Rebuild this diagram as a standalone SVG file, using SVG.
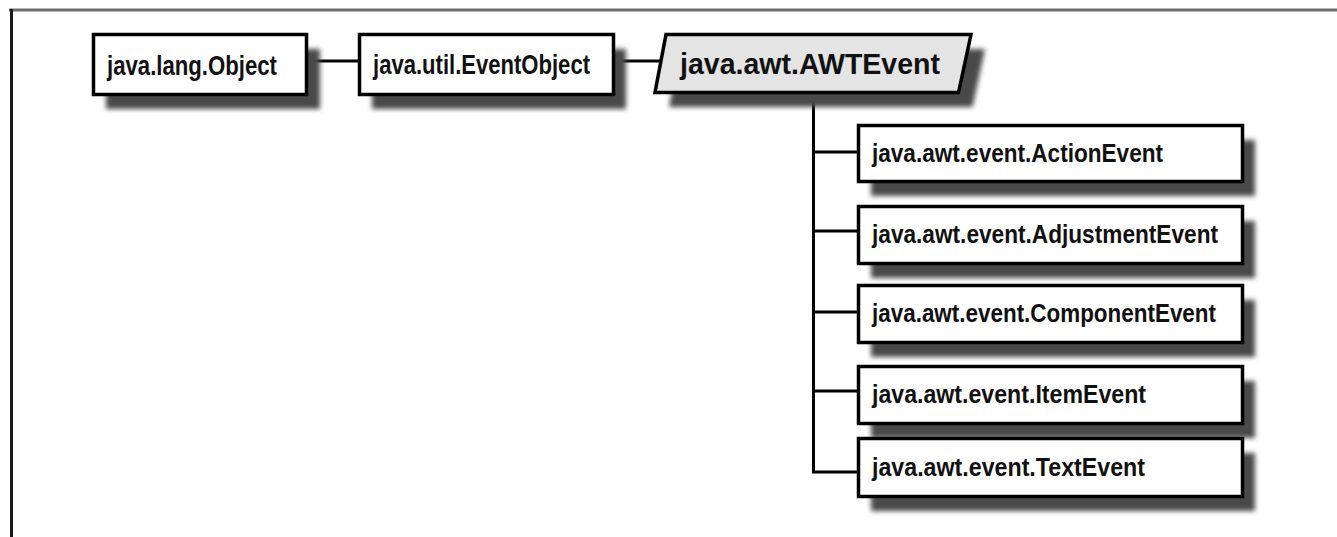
<svg xmlns="http://www.w3.org/2000/svg" width="1337" height="537" viewBox="0 0 1337 537">
<style>
.box{fill:#ffffff;stroke:#000;stroke-width:3.5}
.abs{fill:#e4e4e4;stroke:#000;stroke-width:3.5;stroke-linejoin:miter}
.shadow{fill:#4a4a4a;filter:url(#blur)}
.conn{stroke:#000;stroke-width:3;fill:none}
.t{font-family:"Liberation Sans",Arial,sans-serif;font-weight:bold;fill:#111}
.top{font-size:28px}
.child{font-size:26px}
.big{font-size:30px}
</style>
<defs>
<filter id="blur" x="-10%" y="-30%" width="130%" height="180%">
<feGaussianBlur stdDeviation="2.5"/>
</filter>
</defs>
<rect width="1337" height="537" fill="#fff"/>
<g id="frame">
<line x1="9" y1="10" x2="1337" y2="10" stroke="#6e6e6e" stroke-width="3"/>
<line x1="11.5" y1="9" x2="11.5" y2="537" stroke="#1a1a1a" stroke-width="3"/>
</g>
<g id="connectors">
<line class="conn" x1="308" y1="61" x2="358" y2="61"/>
<line class="conn" x1="615" y1="61" x2="660" y2="61"/>
<polyline class="conn" points="813.5,93 813.5,472 857,472"/>
<line class="conn" x1="813.5" y1="152" x2="857" y2="152"/>
<line class="conn" x1="813.5" y1="231" x2="857" y2="231"/>
<line class="conn" x1="813.5" y1="312" x2="857" y2="312"/>
<line class="conn" x1="813.5" y1="391" x2="857" y2="391"/>
</g>
<g id="node-object">
<rect class="shadow" x="106" y="49" width="214" height="60"/>
<rect class="box" x="93.5" y="34.5" width="213" height="60"/>
<text class="t top" x="107" y="75" textLength="170" lengthAdjust="spacingAndGlyphs">java.lang.Object</text>
</g>
<g id="node-eventobject">
<rect class="shadow" x="372" y="49" width="254" height="60"/>
<rect class="box" x="359.5" y="34.5" width="254" height="60"/>
<text class="t top" x="373" y="74" textLength="217" lengthAdjust="spacingAndGlyphs">java.util.EventObject</text>
</g>
<g id="node-awtevent">
<polygon class="shadow" points="680,49 985,49 972.5,107 669,107"/>
<polygon class="abs" points="666,34.5 971,34.5 958.5,92.5 655,92.5"/>
<text class="t big" x="680" y="74" textLength="260" lengthAdjust="spacingAndGlyphs">java.awt.AWTEvent</text>
</g>
<g id="node-actionevent">
<rect class="shadow" x="871" y="140" width="384" height="56"/>
<rect class="box" x="858.5" y="125.5" width="384" height="56"/>
<text class="t child" x="872" y="162" textLength="291" lengthAdjust="spacingAndGlyphs">java.awt.event.ActionEvent</text>
</g>
<g id="node-adjustmentevent">
<rect class="shadow" x="871" y="221" width="384" height="57"/>
<rect class="box" x="858.5" y="206.5" width="384" height="57"/>
<text class="t child" x="872" y="243" textLength="346" lengthAdjust="spacingAndGlyphs">java.awt.event.AdjustmentEvent</text>
</g>
<g id="node-componentevent">
<rect class="shadow" x="871" y="300" width="384" height="57"/>
<rect class="box" x="858.5" y="285.5" width="384" height="57"/>
<text class="t child" x="872" y="322" textLength="344" lengthAdjust="spacingAndGlyphs">java.awt.event.ComponentEvent</text>
</g>
<g id="node-itemevent">
<rect class="shadow" x="871" y="381" width="384" height="57"/>
<rect class="box" x="858.5" y="366.5" width="384" height="57"/>
<text class="t child" x="872" y="403" textLength="274" lengthAdjust="spacingAndGlyphs">java.awt.event.ItemEvent</text>
</g>
<g id="node-textevent">
<rect class="shadow" x="871" y="453" width="384" height="58"/>
<rect class="box" x="858.5" y="438.5" width="384" height="58"/>
<text class="t child" x="872" y="476" textLength="273" lengthAdjust="spacingAndGlyphs">java.awt.event.TextEvent</text>
</g>
</svg>
